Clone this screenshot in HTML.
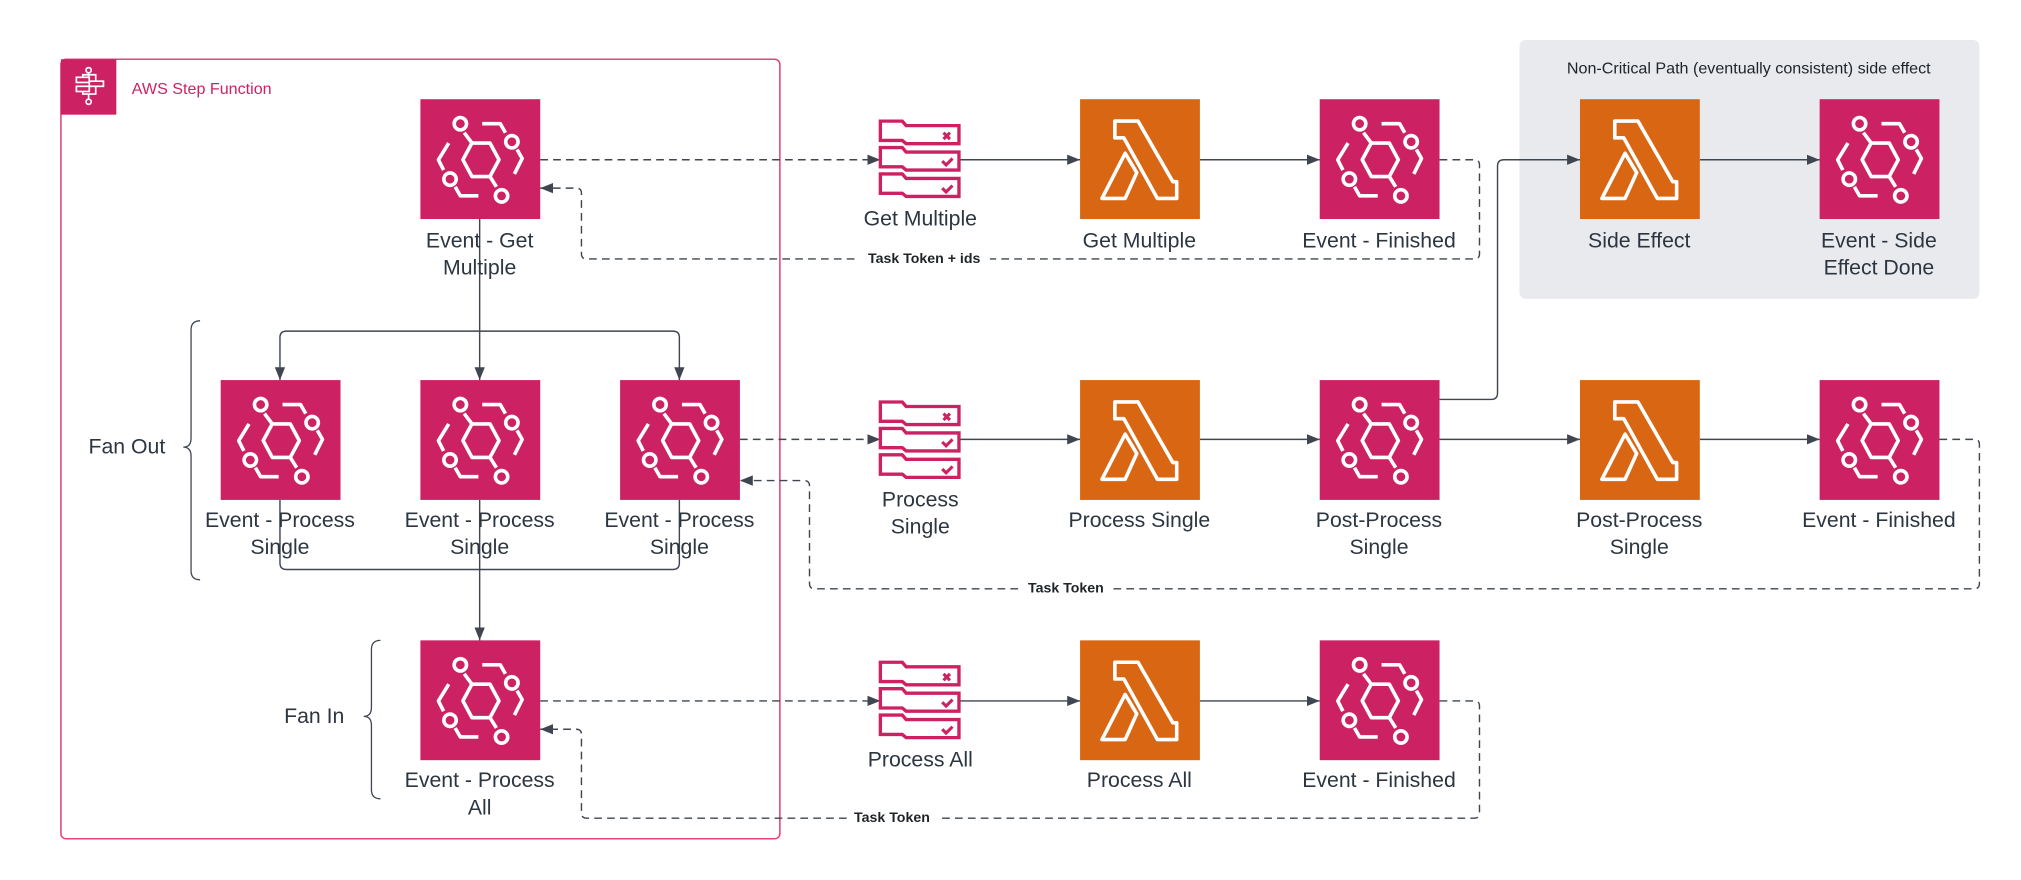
<!DOCTYPE html>
<html><head><meta charset="utf-8"><style>html,body{margin:0;padding:0;background:#fff}svg{display:block}</style></head>
<body>
<svg width="2021" height="880" viewBox="0 0 1568 683" xmlns="http://www.w3.org/2000/svg" font-family="Liberation Sans, Arial, sans-serif">
<defs>
<g id="ev">
<rect width="93" height="93" fill="#CC2264"/>
<g fill="none" stroke="#fff" stroke-width="2.8" stroke-linejoin="round">
<polygon points="40,34 54,34 61,47 54,60 40,60 33,47"/>
<circle cx="31" cy="19" r="4.8"/><line x1="34" y1="26" x2="40" y2="34"/>
<polyline points="48,19 62,19 66,26"/><circle cx="71" cy="33" r="4.8"/><polyline points="75,39 79,46 73,58"/>
<polyline points="22,34 14,47 18,55"/><circle cx="23" cy="62" r="4.8"/><polyline points="27,68 31,75 45,75"/>
<line x1="54" y1="60" x2="59" y2="68"/><circle cx="63" cy="75" r="4.8"/>
</g></g>
<g id="lm">
<rect width="93" height="93" fill="#D86613"/>
<g fill="none" stroke="#fff" stroke-width="2.8" stroke-linejoin="round">
<polygon points="27,17 45,17 72,64 75,64 75,77 60,77 34,30 27,30"/>
<polygon points="35,42 17,77 35,77 44,57"/>
</g></g>
<g id="sq" fill="none" stroke="#CC2264" stroke-width="2.6">
<g id="tab"><polygon points="0,0 17,0 20,3.5 61,3.5 61,17.5 20,17.5 17,15 0,15"/></g>
<use href="#tab" y="20.5"/><use href="#tab" y="41"/>
<path d="M49,9 l5,5 M54,9 l-5,5" stroke-width="2.4"/>
<path d="M48,31 l3,3 l5,-5" stroke-width="2.4"/>
<path d="M48,52 l3,3 l5,-5" stroke-width="2.4"/>
</g>
<marker id="ar" viewBox="0 0 10 10" refX="10" refY="5" markerWidth="10" markerHeight="10" markerUnits="userSpaceOnUse" orient="auto"><path d="M0,1 L10,5 L0,9 z" fill="#3f4650"/></marker>
</defs>

<rect x="1179" y="31" width="357" height="201" rx="5" fill="#E9EAEE"/>
<text x="1357" y="57" font-size="12.5" fill="#1f2428" text-anchor="middle">Non-Critical Path (eventually consistent) side effect</text>

<rect x="47" y="46" width="558" height="605" rx="4" fill="none" stroke="#E0457B" stroke-width="1.2"/>
<rect x="47" y="46" width="43" height="43" fill="#CC2264"/>
<g fill="none" stroke="#fff" stroke-width="1.3">
<circle cx="68.5" cy="54.5" r="2"/><line x1="68.5" y1="56.5" x2="68.5" y2="60"/>
<rect x="59" y="60" width="10" height="4"/><rect x="69" y="63" width="11" height="4"/><rect x="59" y="67" width="10" height="4"/>
<polyline points="64,60 64,58 74,58 74,63"/><polyline points="64,71 64,73 74,73 74,67"/>
<line x1="68.5" y1="73" x2="68.5" y2="77"/><circle cx="68.5" cy="79" r="2"/>
</g>
<text x="102" y="73" font-size="12.5" fill="#CC2264">AWS Step Function</text>

<g fill="none" stroke="#3f4650" stroke-width="1">
<path d="M155,249 q-7,0 -7,7 v84 q0,7 -6,7 q6,0 6,7 v89 q0,7 7,7"/>
<path d="M295,497 q-7,0 -7,7 v45 q0,7 -6,7 q6,0 6,7 v50 q0,7 7,7"/>
</g>
<text x="128" y="352" font-size="16.5" fill="#2d3640" text-anchor="end">Fan Out</text>
<text x="267" y="561" font-size="16.5" fill="#2d3640" text-anchor="end">Fan In</text>

<g fill="none" stroke="#3f4650" stroke-width="1.1">
<path d="M372,170 V295" marker-end="url(#ar)"/>
<path d="M372,257 H222 q-5,0 -5,5 V295" marker-end="url(#ar)"/>
<path d="M372,257 H522 q5,0 5,5 V295" marker-end="url(#ar)"/>
<path d="M217,388 V437 q0,5 5,5 H522 q5,0 5,-5 V388"/>
<path d="M372,388 V497" marker-end="url(#ar)"/>
<path d="M745,124 H838" marker-end="url(#ar)"/>
<path d="M931,124 H1024" marker-end="url(#ar)"/>
<path d="M1319,124 H1412" marker-end="url(#ar)"/>
<path d="M1117,310 H1157 q5,0 5,-5 V129 q0,-5 5,-5 H1226" marker-end="url(#ar)"/>
<path d="M745,341 H838" marker-end="url(#ar)"/>
<path d="M931,341 H1024" marker-end="url(#ar)"/>
<path d="M1117,341 H1226" marker-end="url(#ar)"/>
<path d="M1319,341 H1412" marker-end="url(#ar)"/>
<path d="M745,544 H838" marker-end="url(#ar)"/>
<path d="M931,544 H1024" marker-end="url(#ar)"/>
</g>
<g fill="none" stroke="#3f4650" stroke-width="1.1" stroke-dasharray="6,4">
<path d="M419,124 H683" marker-end="url(#ar)"/>
<path d="M1117,124 H1144 q4,0 4,4 V197 q0,4 -4,4 H455 q-4,0 -4,-4 V150 q0,-4 -4,-4 H419" marker-end="url(#ar)"/>
<path d="M574,341 H683" marker-end="url(#ar)"/>
<path d="M1505,341 H1532 q4,0 4,4 V453 q0,4 -4,4 H632 q-4,0 -4,-4 V377 q0,-4 -4,-4 H574" marker-end="url(#ar)"/>
<path d="M419,544 H683" marker-end="url(#ar)"/>
<path d="M1117,544 H1144 q4,0 4,4 V631 q0,4 -4,4 H455 q-4,0 -4,-4 V570 q0,-4 -4,-4 H419" marker-end="url(#ar)"/>
</g>
<g font-size="11" font-weight="bold" fill="#1f2428" text-anchor="middle">
<rect x="666" y="194" width="102" height="13" fill="#fff"/><text x="717" y="204">Task Token + ids</text>
<rect x="792" y="450" width="70" height="13" fill="#fff"/><text x="827" y="460">Task Token</text>
<rect x="657" y="628" width="70" height="13" fill="#fff"/><text x="692" y="638">Task Token</text>
</g>

<use href="#ev" x="326" y="77"/>
<use href="#ev" x="171" y="295"/><use href="#ev" x="326" y="295"/><use href="#ev" x="481" y="295"/>
<use href="#ev" x="326" y="497"/>
<use href="#sq" x="683" y="94"/><use href="#lm" x="838" y="77"/><use href="#ev" x="1024" y="77"/>
<use href="#lm" x="1226" y="77"/><use href="#ev" x="1412" y="77"/>
<use href="#sq" x="683" y="312"/><use href="#lm" x="838" y="295"/><use href="#ev" x="1024" y="295"/>
<use href="#lm" x="1226" y="295"/><use href="#ev" x="1412" y="295"/>
<use href="#sq" x="683" y="514"/><use href="#lm" x="838" y="497"/><use href="#ev" x="1024" y="497"/>

<g font-size="16.5" fill="#2d3640" text-anchor="middle">
<text x="372" y="192">Event - Get</text><text x="372" y="213">Multiple</text>
<text x="217" y="409">Event - Process</text><text x="217" y="430">Single</text>
<text x="372" y="409">Event - Process</text><text x="372" y="430">Single</text>
<text x="527" y="409">Event - Process</text><text x="527" y="430">Single</text>
<text x="372" y="611">Event - Process</text><text x="372" y="632">All</text>
<text x="714" y="175">Get Multiple</text>
<text x="884" y="192">Get Multiple</text>
<text x="1070" y="192">Event - Finished</text>
<text x="1272" y="192">Side Effect</text>
<text x="1458" y="192">Event - Side</text><text x="1458" y="213">Effect Done</text>
<text x="714" y="393">Process</text><text x="714" y="414">Single</text>
<text x="884" y="409">Process Single</text>
<text x="1070" y="409">Post-Process</text><text x="1070" y="430">Single</text>
<text x="1272" y="409">Post-Process</text><text x="1272" y="430">Single</text>
<text x="1458" y="409">Event - Finished</text>
<text x="714" y="595">Process All</text>
<text x="884" y="611">Process All</text>
<text x="1070" y="611">Event - Finished</text>
</g>
</svg>
</body></html>
